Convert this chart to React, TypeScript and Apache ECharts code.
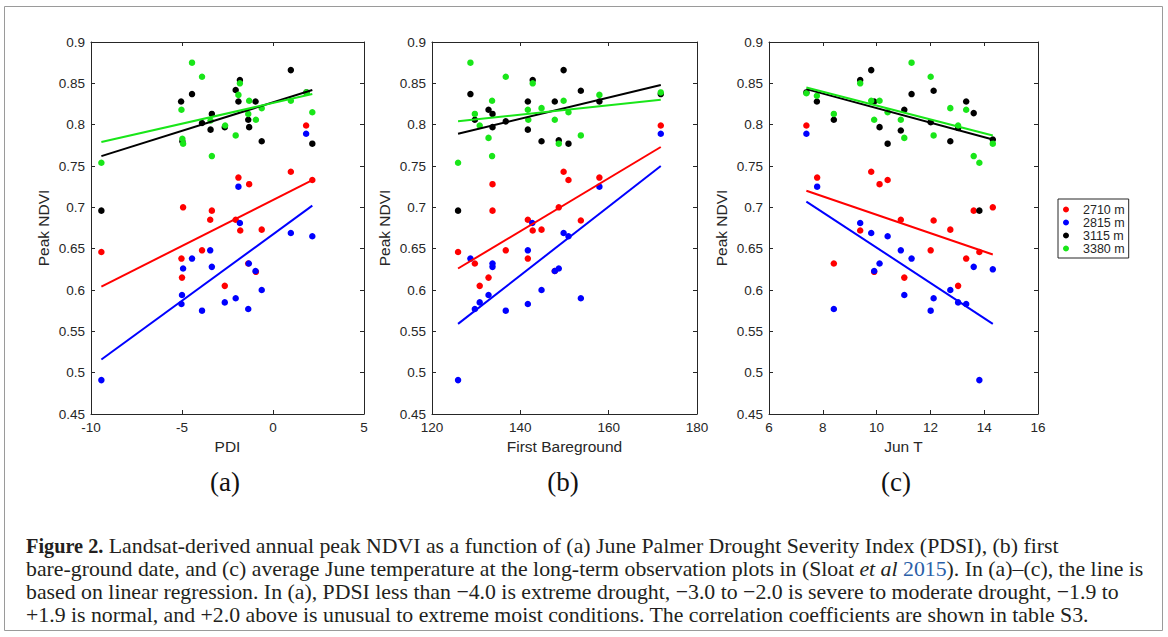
import React, { useEffect, useRef } from 'react';
import * as echarts from 'echarts';

// Series (plot elevations) and colours
const seriesNames = ['2710 m', '2815 m', '3115 m', '3380 m'];
const seriesColors = ['#ff0000', '#0000ff', '#000000', '#19e619'];

// Panel (a): June PDSI vs peak NDVI
const pdsiRed = [[-9.43,0.646],[-5.03,0.638],[-5.0,0.615],[-4.94,0.7],[-3.9,0.648],[-3.45,0.685],[-3.36,0.696],[-2.65,0.605],[-2.05,0.685],[-1.9,0.736],[-1.8,0.672],[-1.36,0.632],[-1.31,0.728],[-0.94,0.622],[-0.62,0.673],[0.98,0.743],[1.82,0.799],[2.16,0.733]];
const pdsiBlue = [[-9.43,0.491],[-5.03,0.583],[-5.0,0.594],[-4.94,0.626],[-4.45,0.638],[-3.9,0.575],[-3.45,0.648],[-3.36,0.628],[-2.65,0.585],[-2.05,0.59],[-1.9,0.725],[-1.82,0.681],[-1.36,0.577],[-1.33,0.632],[-0.96,0.623],[-0.62,0.6],[0.98,0.669],[1.82,0.789],[2.16,0.665]];
const pdsiBlack = [[-9.43,0.696],[-5.05,0.828],[-4.98,0.78],[-4.45,0.837],[-3.9,0.802],[-3.43,0.794],[-3.36,0.813],[-2.65,0.797],[-2.05,0.842],[-1.9,0.828],[-1.82,0.854],[-1.36,0.806],[-1.31,0.797],[-0.96,0.828],[-0.62,0.78],[0.98,0.866],[1.84,0.839],[2.16,0.777]];
const pdsiGreen = [[-9.43,0.754],[-5.03,0.818],[-4.98,0.783],[-4.94,0.777],[-4.45,0.875],[-3.9,0.858],[-3.43,0.805],[-3.36,0.762],[-2.63,0.799],[-2.05,0.787],[-1.9,0.836],[-1.82,0.85],[-1.36,0.813],[-1.31,0.829],[-0.94,0.806],[-0.62,0.82],[0.98,0.829],[1.84,0.839],[2.16,0.815]];
const pdsiFitRed = [[-9.43,0.604],[2.16,0.733]];
const pdsiFitBlue = [[-9.43,0.516],[2.16,0.702]];
const pdsiFitBlack = [[-9.43,0.762],[2.16,0.842]];
const pdsiFitGreen = [[-9.43,0.779],[2.16,0.837]];

// Panel (b): first bare-ground date vs peak NDVI
const bareRed = [[125.9,0.646],[133.7,0.728],[133.7,0.696],[129.7,0.632],[130.8,0.605],[132.8,0.615],[136.7,0.648],[141.7,0.685],[142.8,0.672],[144.8,0.673],[141.7,0.638],[149.8,0.743],[150.9,0.733],[148.7,0.7],[147.8,0.623],[153.7,0.684],[157.9,0.736],[171.8,0.799]];
const bareBlue = [[125.9,0.491],[128.7,0.638],[129.7,0.577],[130.8,0.585],[132.8,0.594],[133.7,0.632],[133.7,0.628],[136.7,0.575],[141.7,0.648],[142.7,0.681],[141.7,0.583],[144.8,0.6],[147.8,0.623],[148.7,0.626],[149.8,0.669],[150.9,0.665],[153.7,0.59],[157.9,0.725],[171.8,0.789]];
const bareBlack = [[125.9,0.696],[128.7,0.837],[132.8,0.818],[133.7,0.813],[129.7,0.806],[133.7,0.797],[136.7,0.804],[142.8,0.854],[141.7,0.828],[141.7,0.794],[144.8,0.78],[147.8,0.828],[149.8,0.866],[148.7,0.781],[150.9,0.777],[153.7,0.841],[157.9,0.828],[171.8,0.837]];
const bareGreen = [[125.9,0.754],[128.7,0.875],[136.7,0.858],[142.8,0.85],[133.6,0.829],[129.7,0.813],[130.8,0.799],[132.8,0.784],[133.6,0.762],[141.7,0.818],[141.8,0.806],[144.8,0.82],[147.8,0.806],[149.8,0.829],[150.9,0.815],[148.7,0.777],[153.7,0.787],[157.9,0.836],[171.8,0.839]];
const bareFitRed = [[125.9,0.626],[171.8,0.773]];
const bareFitBlue = [[125.9,0.559],[171.8,0.75]];
const bareFitBlack = [[125.9,0.789],[171.8,0.848]];
const bareFitGreen = [[125.9,0.804],[171.8,0.83]];

// Panel (c): June temperature vs peak NDVI
const tempRed = [[7.39,0.799],[7.79,0.736],[9.8,0.743],[10.11,0.728],[10.41,0.733],[9.39,0.672],[10.9,0.685],[12.12,0.684],[12.01,0.648],[12.74,0.673],[13.61,0.696],[14.32,0.7],[13.82,0.646],[13.33,0.638],[11.03,0.615],[13.03,0.605],[8.41,0.632],[9.91,0.622]];
const tempBlue = [[7.79,0.725],[7.39,0.789],[9.39,0.681],[9.8,0.669],[10.41,0.665],[10.9,0.648],[11.3,0.638],[10.11,0.632],[9.91,0.623],[13.61,0.628],[14.32,0.625],[8.41,0.577],[11.03,0.594],[12.01,0.575],[12.12,0.59],[12.74,0.6],[13.03,0.585],[13.33,0.583],[13.82,0.491]];
const tempBlack = [[7.39,0.839],[7.78,0.828],[8.41,0.806],[9.39,0.854],[9.8,0.866],[9.91,0.828],[10.11,0.797],[10.41,0.777],[10.9,0.793],[11.03,0.818],[11.3,0.837],[12.01,0.803],[12.12,0.841],[12.74,0.78],[13.03,0.796],[13.33,0.828],[13.61,0.814],[14.32,0.782],[13.82,0.696]];
const tempGreen = [[7.39,0.838],[7.78,0.835],[8.41,0.813],[9.39,0.85],[9.8,0.829],[10.11,0.829],[9.91,0.806],[10.41,0.815],[10.9,0.806],[11.03,0.784],[11.3,0.875],[12.01,0.858],[12.12,0.787],[12.74,0.82],[13.03,0.799],[13.33,0.818],[13.61,0.762],[13.82,0.754],[14.32,0.777]];
const tempFitRed = [[7.39,0.72],[14.32,0.643]];
const tempFitBlue = [[7.39,0.707],[14.32,0.559]];
const tempFitBlack = [[7.39,0.843],[14.32,0.782]];
const tempFitGreen = [[7.39,0.845],[14.32,0.787]];

// Axes
const yMin = 0.45, yMax = 0.9, yStep = 0.05;
const xAxesSpec = [
  { name: 'PDI', min: -10, max: 5, interval: 5 },
  { name: 'First Bareground', min: 120, max: 180, interval: 20 },
  { name: 'Jun T', min: 6, max: 16, interval: 2 },
];
const panelLabels = ['(a)', '(b)', '(c)'];
const yName = 'Peak NDVI';

// Caption lines as [style, text] segments (n normal, b bold, i italic, l link)
const captionLines: [string, string][][] = [
  [['b', 'Figure 2.'], ['n', ' Landsat-derived annual peak NDVI as a function of (a) June Palmer Drought Severity Index (PDSI), (b) first']],
  [['n', 'bare-ground date, and (c) average June temperature at the long-term observation plots in (Sloat '], ['i', 'et al'], ['n', ' '], ['l', '2015'], ['n', '). In (a)–(c), the line is']],
  [['n', 'based on linear regression. In (a), PDSI less than −4.0 is extreme drought, −3.0 to −2.0 is severe to moderate drought, −1.9 to']],
  [['n', '+1.9 is normal, and +2.0 above is unusual to extreme moist conditions. The correlation coefficients are shown in table S3.']],
];

const panelPoints = [
  [pdsiRed, pdsiBlue, pdsiBlack, pdsiGreen],
  [bareRed, bareBlue, bareBlack, bareGreen],
  [tempRed, tempBlue, tempBlack, tempGreen],
];
const panelFits = [
  [pdsiFitRed, pdsiFitBlue, pdsiFitBlack, pdsiFitGreen],
  [bareFitRed, bareFitBlue, bareFitBlack, bareFitGreen],
  [tempFitRed, tempFitBlue, tempFitBlack, tempFitGreen],
];

const grids = [
  { left: 91, top: 42, width: 273, height: 372 },
  { left: 432, top: 42, width: 265, height: 372 },
  { left: 769, top: 42, width: 269, height: 372 },
];
const labelCenters = [225, 563, 896];

const AX = '#262626';
const SANS = '"Liberation Sans", Arial, Helvetica, sans-serif';
const SERIF = '"Liberation Serif", "Times New Roman", serif';
const CAP = 21.8;
const CAPC = '#231f20';

function buildOption() {
  const xAxis: any[] = [];
  const yAxis: any[] = [];
  const series: any[] = [];
  grids.forEach((g, i) => {
    const spec = xAxesSpec[i];
    const common = {
      gridIndex: i, type: 'value', min: spec.min, max: spec.max, interval: spec.interval,
      axisLine: { show: true, onZero: false, lineStyle: { color: AX, width: 1 } },
      axisTick: { show: true, inside: true, length: 4, lineStyle: { color: AX } },
      splitLine: { show: false },
    };
    xAxis.push({
      ...common, position: 'bottom',
      name: spec.name, nameLocation: 'middle', nameGap: 18,
      nameTextStyle: { fontSize: 15.5, fontFamily: SANS, color: AX },
      axisLabel: { show: true, margin: 6, fontSize: 13.5, fontFamily: SANS, color: AX },
    });
    xAxis.push({ ...common, position: 'top', axisLabel: { show: false } });
    const ycommon = {
      gridIndex: i, type: 'value', min: yMin, max: yMax, interval: yStep,
      axisLine: { show: true, onZero: false, lineStyle: { color: AX, width: 1 } },
      axisTick: { show: true, inside: true, length: 4, lineStyle: { color: AX } },
      splitLine: { show: false },
    };
    yAxis.push({
      ...ycommon, position: 'left',
      name: yName, nameLocation: 'middle', nameGap: 40, nameRotate: 90,
      nameTextStyle: { fontSize: 15.5, fontFamily: SANS, color: AX },
      axisLabel: { show: true, margin: 6, fontSize: 13.5, fontFamily: SANS, color: AX },
    });
    yAxis.push({ ...ycommon, position: 'right', axisLabel: { show: false } });

    panelPoints[i].forEach((pts, k) => {
      series.push({
        type: 'scatter', name: seriesNames[k], xAxisIndex: 2 * i, yAxisIndex: 2 * i,
        data: pts, symbol: 'circle', symbolSize: 6.5,
        itemStyle: { color: seriesColors[k], opacity: 1 }, z: 2,
      });
    });
    panelFits[i].forEach((pts, k) => {
      series.push({
        type: 'line', name: seriesNames[k] + ' fit', xAxisIndex: 2 * i, yAxisIndex: 2 * i,
        data: pts, symbol: 'none', showSymbol: false,
        lineStyle: { color: seriesColors[k], width: 2 }, z: 3,
      });
    });
  });

  const graphic: any[] = [
    { type: 'rect', shape: { x: 4.5, y: 6.5, width: 1158, height: 624 }, style: { fill: 'none', stroke: '#9a9a9a', lineWidth: 1 }, z: -10, silent: true },
  ];
  panelLabels.forEach((t, i) => {
    graphic.push({
      type: 'text', x: labelCenters[i], y: 482,
      style: { text: t, fontSize: 27, fontFamily: SERIF, fill: '#111', align: 'center', verticalAlign: 'middle' },
    });
  });
  const rich = {
    n: { fontSize: CAP, fontFamily: SERIF, fill: CAPC, color: CAPC },
    b: { fontSize: CAP - 1.5, fontFamily: SERIF, fontWeight: 'bold', fill: CAPC, color: CAPC },
    i: { fontSize: CAP, fontFamily: SERIF, fontStyle: 'italic', fill: CAPC, color: CAPC },
    l: { fontSize: CAP, fontFamily: SERIF, fill: '#2b5fa8', color: '#2b5fa8' },
  };
  captionLines.forEach((segs, i) => {
    const text = segs.map(([s, t]) => `{${s}|${t}}`).join('');
    graphic.push({
      type: 'text', x: 26, y: 546 + i * 23,
      style: {
        text, fontSize: CAP, fontFamily: SERIF, fill: CAPC, align: 'left', verticalAlign: 'middle', rich,
      },
    });
  });

  return {
    animation: false,
    backgroundColor: '#ffffff',
    grid: grids.map(g => ({ ...g, containLabel: false })),
    xAxis, yAxis, series, graphic,
    legend: {
      data: seriesNames, orient: 'vertical', left: 1058, top: 199,
      itemWidth: 24, itemHeight: 6, itemGap: 0, icon: 'circle', selectedMode: false,
      padding: [4, 4, 3, 5], borderColor: AX, borderWidth: 1, backgroundColor: '#fff',
      textStyle: { fontSize: 12.5, fontFamily: SANS, color: AX, lineHeight: 13 },
    },
  };
}

export default function App() {
  const ref = useRef<HTMLDivElement>(null);
  useEffect(() => {
    if (!ref.current) return;
    const chart = echarts.init(ref.current, null, { renderer: 'svg' });
    chart.setOption(buildOption() as any);
    return () => chart.dispose();
  }, []);
  return (
    <div
      ref={ref}
      style={{ position: 'fixed', left: 0, top: 0, width: 1168, height: 637, background: '#fff' }}
    />
  );
}
